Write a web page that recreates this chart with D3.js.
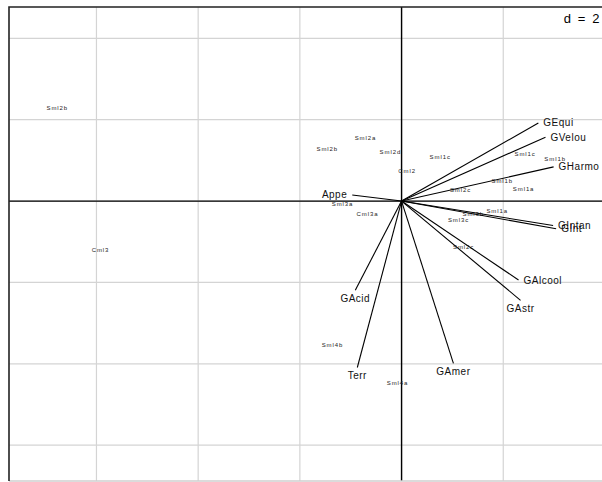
<!DOCTYPE html>
<html><head><meta charset="utf-8">
<script src="https://cdn.jsdelivr.net/npm/d3@7"></script>
<style>body{margin:0;background:#fff}svg{display:block}</style>
</head><body>
<script>
// Variables (arrows): name, x, y (axis units)
const varNames = ["GEqui","GVelou","GHarmo","Appe","GIntan","GInt","GAlcool","GAstr","GAmer","Terr","GAcid"];
const varX = [2.69, 2.83, 2.99, -0.97, 2.98, 3.04, 2.30, 2.34, 1.02, -0.87, -0.91];
const varY = [1.92, 1.57, 0.84, 0.15, -0.60, -0.68, -1.94, -2.44, -3.99, -4.09, -2.19];

// Rows (labels)
const rowNames = ["Sml2b","Cml3","Sml2a","Sml2b","Sml2d","Sml1c","Cml2","Sml1c","Sml1b","Sml1b","Sml1a","Sml2c","Sml3a","Cml3a","Sml1a","Sml3b","Sml3c","Sml2c","Sml4b","Sml4a"];
const rowX = [-6.77, -5.92, -0.71, -1.46, -0.22, 0.76, 0.11, 2.43, 3.02, 1.98, 2.40, 1.16, -1.16, -0.67, 1.88, 1.41, 1.12, 1.22, -1.36, -0.08];
const rowY = [2.29, -1.21, 1.55, 1.28, 1.21, 1.08, 0.74, 1.16, 1.03, 0.49, 0.30, 0.27, -0.07, -0.32, -0.25, -0.32, -0.47, -1.13, -3.54, -4.48];

const gridStep = 2;
const dLabel = "d = 2";

const W = 602, H = 482;
const svg = d3.select("body").append("svg").attr("width", W).attr("height", H);

const x = d3.scaleLinear().domain([-7.72, 4.0]).range([9, 9 + 11.72 * 50.85]);
const y = d3.scaleLinear().domain([-6.88, 4.77]).range([481, 7]);

const [x0, x1] = x.domain(), [y0, y1] = y.domain();
const xt = d3.range(Math.ceil(x0 / gridStep) * gridStep, x1 + 1e-9, gridStep);
const yt = d3.range(Math.ceil(y0 / gridStep) * gridStep, y1 + 1e-9, gridStep);

const g = svg.append("g");
// grid
g.selectAll("line.gx").data(xt).join("line")
  .attr("x1", d => x(d)).attr("x2", d => x(d)).attr("y1", y(y0)).attr("y2", y(y1))
  .attr("stroke", "#d4d4d4").attr("stroke-width", 1.2);
g.selectAll("line.gy").data(yt).join("line")
  .attr("y1", d => y(d)).attr("y2", d => y(d)).attr("x1", x(x0)).attr("x2", x(x1))
  .attr("stroke", "#d4d4d4").attr("stroke-width", 1.2);

// d = 2 box
const dt = g.append("text").attr("x", W - 1).attr("y", 23).attr("text-anchor", "end")
  .attr("font-family", "Liberation Sans, Arial, sans-serif").attr("font-size", 13)
  .attr("letter-spacing", 1.6).text(dLabel);
const bb = dt.node().getBBox();
g.insert("rect", "text").attr("x", bb.x - 4).attr("y", 8).attr("width", W - bb.x + 4).attr("height", 29).attr("fill", "#fff");

// axes through origin
g.append("line").attr("x1", x(0)).attr("x2", x(0)).attr("y1", y(y0)).attr("y2", y(y1)).attr("stroke", "#000").attr("stroke-width", 1.4);
g.append("line").attr("y1", y(0)).attr("y2", y(0)).attr("x1", x(x0)).attr("x2", x(x1)).attr("stroke", "#000").attr("stroke-width", 1.4);

// border (bottom edge falls on the picture's edge and shows light)
g.append("line").attr("x1", x(x0)).attr("x2", x(x1)).attr("y1", y(y0)).attr("y2", y(y0)).attr("stroke", "#cfcfcf").attr("stroke-width", 1.6);
g.append("path").attr("d", `M${x(x0)},${y(y0)}V${y(y1)}H${x(x1)}V${y(y0)}`)
  .attr("fill", "none").attr("stroke", "#222").attr("stroke-width", 1.6);

// row labels
const rows = rowNames.map((n, i) => ({n, x: rowX[i], y: rowY[i]}));
g.selectAll("text.row").data(rows).join("text")
  .attr("x", d => x(d.x)).attr("y", d => y(d.y)).attr("dy", "0.35em")
  .attr("text-anchor", "middle").attr("font-family", "Liberation Sans, Arial, sans-serif")
  .attr("font-size", 6).attr("letter-spacing", 0.9).attr("fill", "#222").text(d => d.n);

// arrows
const vars = varNames.map((n, i) => ({n, x: varX[i], y: varY[i]}));
g.selectAll("line.arr").data(vars).join("line")
  .attr("x1", x(0)).attr("y1", y(0)).attr("x2", d => x(d.x)).attr("y2", d => y(d.y))
  .attr("stroke", "#000").attr("stroke-width", 1.1);

// labels placed as ade4 scatterutil.eti.circ
const vt = g.selectAll("text.var").data(vars).join("text")
  .attr("font-family", "Liberation Sans, Arial, sans-serif").attr("font-size", 10)
  .attr("letter-spacing", 0.5).attr("fill", "#111").attr("dy", "0.35em").text(d => d.n);
vt.each(function(d) {
  const t = d3.select(this);
  const px = x(d.x), py = y(d.y);
  if (d.x > d.y && d.x > -d.y) { t.attr("x", px + 5).attr("y", py).attr("text-anchor", "start"); }
  else if (d.x > d.y && d.x <= -d.y) { t.attr("x", px).attr("y", py + 8).attr("text-anchor", "middle"); }
  else if (d.x <= d.y && d.x <= -d.y) { t.attr("x", px - 5).attr("y", py).attr("text-anchor", "end"); }
  else { t.attr("x", px).attr("y", py - 8).attr("text-anchor", "middle"); }
});
</script>
</body></html>
